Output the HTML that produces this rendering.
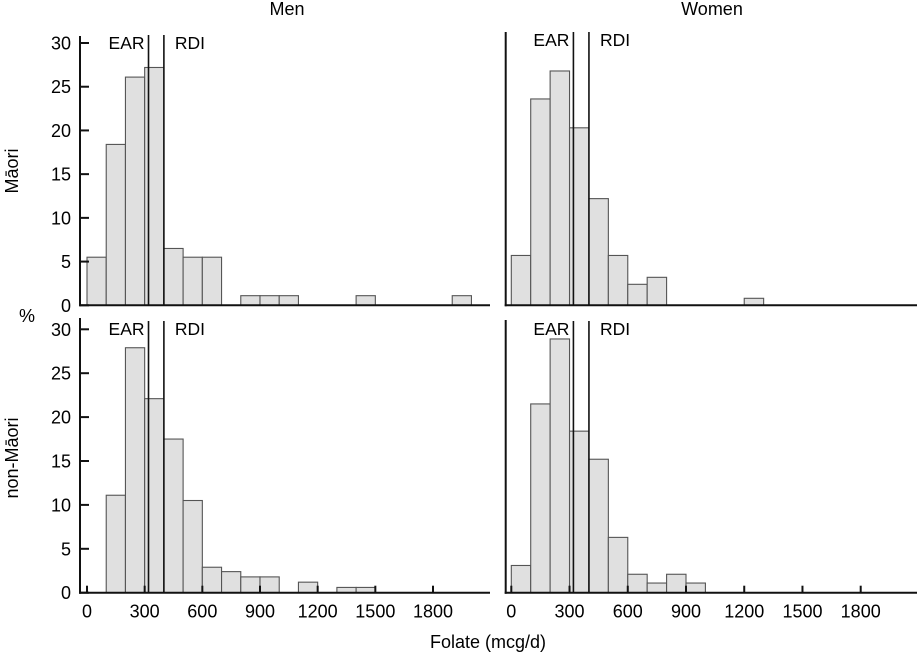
<!DOCTYPE html>
<html><head><meta charset="utf-8"><style>
html,body{margin:0;padding:0;background:#fff}
svg{display:block;font-family:"Liberation Sans",Arial,sans-serif}
</style></head><body>
<svg id="chart" width="917" height="653" viewBox="0 0 917 653" xmlns="http://www.w3.org/2000/svg">
<text x="287" y="15" font-size="18" text-anchor="middle">Men</text>
<text x="712" y="15" font-size="18" text-anchor="middle">Women</text>
<text x="27" y="322" font-size="18" text-anchor="middle">%</text>
<text transform="translate(18,171) rotate(-90)" font-size="18" text-anchor="middle">Māori</text>
<text transform="translate(18,458) rotate(-90)" font-size="18" text-anchor="middle">non-Māori</text>
<text x="488" y="648" font-size="18" text-anchor="middle">Folate (mcg/d)</text>
<g id="plots"></g>
</svg>
<script>
const binStarts = [0,100,200,300,400,500,600,700,800,900,1000,1100,1200,1300,1400,1500,1600,1700,1800,1900];
const menMaori = [5.5,18.4,26.1,27.2,6.5,5.5,5.5,0,1.1,1.1,1.1,0,0,0,1.1,0,0,0,0,1.1];
const menNonMaori = [0,11.1,27.9,22.1,17.5,10.5,2.9,2.4,1.8,1.8,0,1.2,0,0.6,0.6,0,0,0,0,0];
const womenMaori = [5.7,23.6,26.8,20.3,12.2,5.7,2.4,3.2,0,0,0,0,0.8,0,0,0,0,0,0,0];
const womenNonMaori = [3.1,21.5,28.9,18.4,15.2,6.3,2.1,1.1,2.1,1.1,0,0,0,0,0,0,0,0,0,0];
const yTicks = [0,5,10,15,20,25,30];
const xTicks = [0,300,600,900,1200,1500,1800];
const earValue = 320;
const rdiValue = 400;
const binWidth = 100;

const NS = "http://www.w3.org/2000/svg";
const root = document.getElementById('plots');
function mk(tag, attrs, parent){const e=document.createElementNS(NS,tag);for(const k in attrs)e.setAttribute(k,attrs[k]);(parent||root).appendChild(e);return e;}

const panels = [
 {id:'men-maori', data:menMaori, ax:80, x0:87, x1800:433, y0:305.3, y30:43, top:36, right:490, yLabels:true, xLabels:false, lineTop:35},
 {id:'women-maori', data:womenMaori, ax:505.7, x0:511.3, x1800:860.7, y0:305.3, y30:43, top:32, right:917, yLabels:false, xLabels:false, lineTop:32},
 {id:'men-non-maori', data:menNonMaori, ax:80, x0:87, x1800:433, y0:592.7, y30:329.3, top:318, right:490, yLabels:true, xLabels:true, lineTop:321},
 {id:'women-non-maori', data:womenNonMaori, ax:505.7, x0:511.3, x1800:860.7, y0:592.7, y30:329.3, top:320, right:917, yLabels:false, xLabels:true, lineTop:321}
];

panels.forEach(p=>{
  const g = mk('g',{});
  
  
  const xs = v => p.x0 + (v/1800)*(p.x1800-p.x0);
  const ys = v => p.y0 - (v/30)*(p.y0-p.y30);
  p.data.forEach((v,i)=>{
    if(v<=0) return;
    const r = mk('rect',{x:xs(binStarts[i]),y:ys(v),width:xs(binStarts[i]+binWidth)-xs(binStarts[i]),height:p.y0-ys(v),fill:'#e0e0e0',stroke:'#555','stroke-width':1.1},g);
    
    
  });
  [[earValue,'ear'],[rdiValue,'rdi']].forEach(([v,n])=>{
    const l = mk('line',{x1:xs(v),x2:xs(v),y1:p.lineTop,y2:p.y0,stroke:'#111','stroke-width':1.6},g);
    
    
  });
  const t1 = mk('text',{x:xs(earValue)-4,y:p.lineTop+14,'font-size':17.5,'text-anchor':'end'},g);
  t1.textContent='EAR';
  
  
  const t2 = mk('text',{x:xs(rdiValue)+11,y:p.lineTop+14,'font-size':17.5},g);
  t2.textContent='RDI';
  
  
  const ya = mk('line',{x1:p.ax,x2:p.ax,y1:p.top,y2:p.y0+1,stroke:'#111','stroke-width':2},g);
  
  
  const xa = mk('line',{x1:p.ax-1,x2:p.right,y1:p.y0,y2:p.y0,stroke:'#111','stroke-width':2},g);
  
  
  if(p.yLabels){
    yTicks.forEach(t=>{
      mk('line',{x1:p.ax,x2:p.ax+9,y1:ys(t),y2:ys(t),stroke:'#111','stroke-width':2},g);
      const tl = mk('text',{x:p.ax-9,y:ys(t)+6.5,'font-size':18,'text-anchor':'end'},g);
      tl.textContent=t;
      
      
    });
  }
  if(p.xLabels){
    xTicks.forEach(t=>{
      mk('line',{x1:xs(t),x2:xs(t),y1:p.y0,y2:p.y0-7,stroke:'#111','stroke-width':2},g);
      const tl = mk('text',{x:xs(t),y:p.y0+25,'font-size':18,'text-anchor':'middle'},g);
      tl.textContent=t;
      
      
    });
  }
});
</script>
</body></html>
